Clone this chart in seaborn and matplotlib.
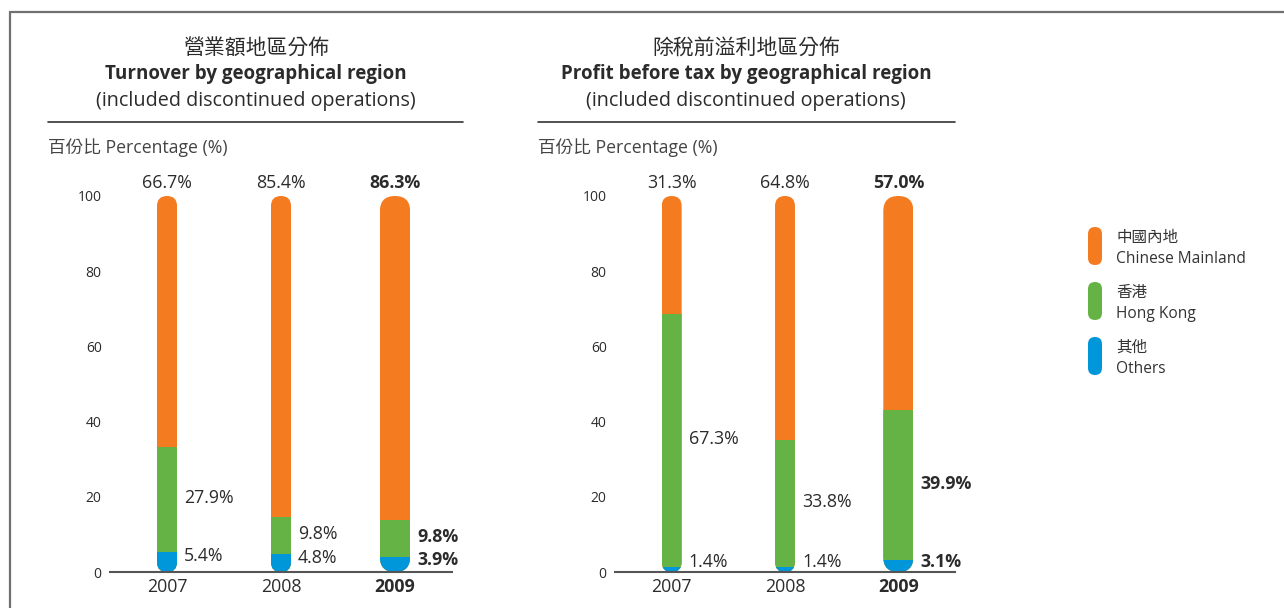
import matplotlib
matplotlib.use("Agg")
import matplotlib.pyplot as plt
import seaborn as sns
import numpy as np
from matplotlib.patches import FancyBboxPatch
from matplotlib.lines import Line2D

# ---------------- data ----------------
years = ["2007", "2008", "2009"]
turnover_mainland = [66.7, 85.4, 86.3]
turnover_hk = [27.9, 9.8, 9.8]
turnover_others = [5.4, 4.8, 3.9]
profit_mainland = [31.3, 64.8, 57.0]
profit_hk = [67.3, 33.8, 39.9]
profit_others = [1.4, 1.4, 3.1]
yticks = [0, 20, 40, 60, 80, 100]
legend_zh = ["中國內地", "香港", "其他"]
legend_en = ["Chinese Mainland", "Hong Kong", "Others"]

# ---------------- style ----------------
sns.set_theme(style="white")
plt.rcParams["font.family"] = ["Open Sans", "Noto Sans CJK TC", "DejaVu Sans"]
C_ORANGE = "#F47B20"
C_GREEN = "#66B345"
C_BLUE = "#0096DA"
TXT = "#2b2b2b"
W, H = 1284, 608
fig = plt.figure(figsize=(W / 100, H / 100), dpi=100)
fig.patch.set_facecolor("white")


def px(x, y):
    """pixel (from top-left) -> figure fraction"""
    return x / W, 1 - y / H


# frame
fig.add_artist(Line2D([10 / W, 1.0], [1 - 12 / H] * 2, color="#707070", lw=1.6, transform=fig.transFigure))
fig.add_artist(Line2D([10 / W, 10 / W], [0, 1 - 12 / H], color="#707070", lw=1.6, transform=fig.transFigure))


def panel(ax_px, xlim, mainland, hk, others, title_zh, title_en, title_cx, rule_x):
    x0, x1, ybot, ytop = ax_px
    ax = fig.add_axes([x0 / W, (H - ybot) / H, (x1 - x0) / W, (ybot - ytop) / H])
    ax.set_xlim(*xlim)
    ax.set_ylim(0, 100)
    px_per_x = (x1 - x0) / (xlim[1] - xlim[0])
    px_per_y = (ybot - ytop) / 100.0
    aspect = px_per_x / px_per_y

    cum_hk = [o + h for o, h in zip(others, hk)]
    cum_all = [o + h + m for o, h, m in zip(others, hk, mainland)]
    widths = [0.176, 0.176, 0.265]
    layers = [(cum_all, C_ORANGE), (cum_hk, C_GREEN), (list(others), C_BLUE)]
    for vals, col in layers:
        sns.barplot(x=years, y=vals, color=col, width=0.176, ax=ax,
                    saturation=1, edgecolor="none", linewidth=0)
        cont = ax.containers[-1]
        for i, p in enumerate(cont.patches):
            w = widths[i]
            p.set_x(i - w / 2)
            p.set_width(w)
            cap = FancyBboxPatch((i - w / 2, 0), w, cum_all[i],
                                 boxstyle=f"round,pad=0,rounding_size={w / 2}",
                                 mutation_aspect=aspect, transform=ax.transData)
            p.set_clip_path(cap)

    # labels
    for i in range(3):
        w = widths[i]
        bold = "bold" if i == 2 else "normal"
        ax.annotate(f"{mainland[i]:.1f}%", (i, cum_all[i]), xytext=(0, 6),
                    textcoords="offset points", ha="center", va="baseline",
                    fontsize=12.8, color=TXT, fontweight=bold, annotation_clip=False)
        ax.annotate(f"{hk[i]:.1f}%", (i + w / 2, others[i] + hk[i] / 2 + 0.4), xytext=(5, 0),
                    textcoords="offset points", ha="left", va="center",
                    fontsize=12.8, color=TXT, fontweight=bold, annotation_clip=False)
        ax.annotate(f"{others[i]:.1f}%", (i + w / 2, max(others[i] * 0.8, 2.7)), xytext=(5, 0),
                    textcoords="offset points", ha="left", va="center",
                    fontsize=12.8, color=TXT, fontweight=bold, annotation_clip=False)

    sns.despine(ax=ax, left=True, top=True, right=True)
    ax.spines["bottom"].set_color("#555555")
    ax.spines["bottom"].set_linewidth(1.5)
    ax.set_yticks(yticks)
    ax.set_yticklabels([str(t) for t in yticks], fontsize=10, color=TXT)
    ax.tick_params(axis="y", length=0, pad=6)
    ax.tick_params(axis="x", length=0, pad=4.5, labelsize=12.8, labelcolor=TXT)
    ax.set_xticks(range(3))
    ax.set_xticklabels(years)
    ax.get_xticklabels()[2].set_fontweight("bold")
    ax.set_xlabel("")
    ax.set_ylabel("")
    ax.grid(False)
    ax.set_facecolor("none")

    # titles
    fig.text(*px(title_cx, 48), title_zh, ha="center", va="center", fontsize=15, color=TXT)
    fig.text(*px(title_cx, 74), title_en, ha="center", va="center", fontsize=13.5,
             fontweight="bold", color=TXT)
    fig.text(*px(title_cx, 101), "(included discontinued operations)", ha="center", va="center",
             fontsize=14.2, color=TXT)
    fig.add_artist(Line2D([rule_x[0] / W, rule_x[1] / W], [1 - 121.5 / H] * 2, color="#333333",
                          lw=1.2, transform=fig.transFigure))
    fig.text(*px(rule_x[0], 148), "百份比 Percentage (%)", ha="left", va="center",
             fontsize=12.7, color="#444444")
    return ax


panel((110, 452, 572, 196), (-0.5, 2.51), turnover_mainland, turnover_hk, turnover_others,
      "營業額地區分佈", "Turnover by geographical region", 256, (48, 463))
panel((615, 955, 572, 196), (-0.49, 2.50), profit_mainland, profit_hk, profit_others,
      "除稅前溢利地區分佈", "Profit before tax by geographical region", 746, (538, 955))

# legend
leg_cols = [C_ORANGE, C_GREEN, C_BLUE]
for k, (zh, en, col) in enumerate(zip(legend_zh, legend_en, leg_cols)):
    ytop = 227 + k * 55
    wpx, hpx = 14, 38
    box = FancyBboxPatch((1088 / 100, (H - ytop - hpx) / 100), wpx / 100, hpx / 100,
                         boxstyle=f"round,pad=0,rounding_size={wpx / 200}",
                         transform=fig.dpi_scale_trans, facecolor=col, edgecolor="none")
    fig.add_artist(box)
    fig.text(*px(1116, ytop + 11), zh, ha="left", va="center", fontsize=11.2, color="#333333")
    fig.text(*px(1116, ytop + 32), en, ha="left", va="center", fontsize=11.2, color="#333333")

fig.savefig("out.png", dpi=100, facecolor="white")
